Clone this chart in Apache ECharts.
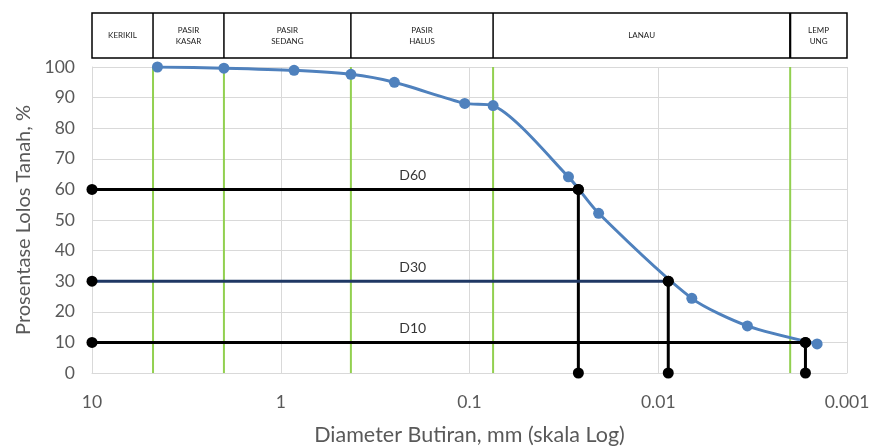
<!DOCTYPE html>
<html>
<head>
<meta charset="utf-8">
<script src="https://cdn.jsdelivr.net/npm/echarts@6/dist/echarts.min.js"></script>
<style>html,body{margin:0;padding:0;background:#fff}#c{width:872px;height:448px}</style>
</head>
<body>
<div id="c"></div>
<script>
// ---- data ----
const diameters = [4.5, 2.0, 0.85, 0.425, 0.25, 0.106, 0.075, 0.0299, 0.0207, 0.00664, 0.00337, 0.00144];
const percentFiner = [100, 99.6, 98.9, 97.6, 95.0, 88.1, 87.4, 64.1, 52.2, 24.4, 15.4, 9.5];
const boundaries = [4.75, 2.0, 0.425, 0.075, 0.002];
const zoneNames = ['KERIKIL', 'PASIR\nKASAR', 'PASIR\nSEDANG', 'PASIR\nHALUS', 'LANAU', 'LEMP\nUNG'];
const dNames = ['D60', 'D30', 'D10'];
const dPercents = [60, 30, 10];
const dDiameters = [0.0265, 0.00885, 0.00166];
const dLabelX = 0.2;
const xMax = 10, xMin = 0.001;
const xTickLabels = ['10', '1', '0.1', '0.01', '0.001'];

(function () {
const FONT = 'Lato';
const GREY = '#595959';

const series = [];
boundaries.forEach(b => {
  series.push({type: 'line', data: [[b, 0], [b, 100]], symbol: 'none', silent: true,
    lineStyle: {color: '#92d050', width: 2}, z: 1});
});
const hColors = ['#000000', '#1f3864', '#000000'];
dNames.forEach((n, i) => {
  series.push({type: 'line', data: [[xMax, dPercents[i]], [dDiameters[i], dPercents[i]]],
    symbol: 'circle', symbolSize: 11, itemStyle: {color: '#000'},
    lineStyle: {color: hColors[i], width: 3}, z: 4});
  series.push({type: 'line', data: [[dDiameters[i], dPercents[i]], [dDiameters[i], 0]],
    symbol: 'circle', symbolSize: 11, itemStyle: {color: '#000'},
    lineStyle: {color: '#000', width: 3}, z: 4});
  series.push({type: 'scatter', data: [[dLabelX, dPercents[i]]], symbolSize: 0, z: 6,
    label: {show: true, position: 'top', distance: 7, formatter: n, color: '#000',
      fontFamily: FONT, fontSize: 14}});
});
series.push({type: 'line', data: diameters.map((d, i) => [d, percentFiner[i]]),
  smooth: 0.25, symbol: 'circle', symbolSize: 11, showAllSymbol: true,
  itemStyle: {color: '#4f81bd'}, lineStyle: {color: '#4f81bd', width: 3}, z: 3});

const chart = echarts.init(document.getElementById('c'), null, {renderer: 'canvas'});
chart.setOption({
  animation: false,
  grid: {left: 92, right: 25, top: 67, bottom: 75, containLabel: false, outerBoundsMode: 'none'},
  xAxis: {
    type: 'log', logBase: 10, inverse: true, min: xMin, max: xMax,
    name: 'Diameter Butiran, mm (skala Log)', nameLocation: 'middle', nameGap: 51,
    nameTextStyle: {fontFamily: FONT, fontSize: 21.5, color: GREY},
    axisLine: {lineStyle: {color: '#d9d9d9'}}, axisTick: {show: false},
    axisLabel: {fontFamily: FONT, fontSize: 17.5, color: GREY, margin: 20,
      formatter: v => { const e = Math.round(Math.log10(v)); return xTickLabels[1 - e]; }},
    splitLine: {show: true, lineStyle: {color: '#d9d9d9', width: 1}}
  },
  yAxis: {
    type: 'value', min: 0, max: 100, interval: 10,
    name: 'Prosentase Lolos Tanah, %', nameLocation: 'middle', nameGap: 58,
    nameTextStyle: {fontFamily: FONT, fontSize: 20, color: GREY},
    axisLine: {show: true, lineStyle: {color: '#d9d9d9'}}, axisTick: {show: false},
    axisLabel: {fontFamily: FONT, fontSize: 17.5, color: GREY, margin: 17},
    splitLine: {lineStyle: {color: '#d9d9d9', width: 1}}
  },
  series: series
});

// header table of soil classes
const edges = [xMax].concat(boundaries, [xMin]).map(v => chart.convertToPixel({xAxisIndex: 0}, v));
const tTop = 13, tBot = 58;
const g = [];
g.push({type: 'rect', shape: {x: edges[0], y: tTop, width: edges[edges.length - 1] - edges[0], height: tBot - tTop},
  style: {fill: '#fff', stroke: '#000', lineWidth: 1.5}});
for (let i = 1; i < edges.length - 1; i++) {
  g.push({type: 'line', shape: {x1: edges[i], y1: tTop, x2: edges[i], y2: tBot},
    style: {stroke: '#000', lineWidth: i === edges.length - 2 ? 2.2 : 1.5}});
}
zoneNames.forEach((n, i) => {
  g.push({type: 'text', x: (edges[i] + edges[i + 1]) / 2, y: (tTop + tBot) / 2,
    style: {text: n, fontFamily: FONT, fontSize: 8, fill: '#222', align: 'center',
      verticalAlign: 'middle', lineHeight: 11}});
});
chart.setOption({graphic: g});
})();
</script>
</body>
</html>
